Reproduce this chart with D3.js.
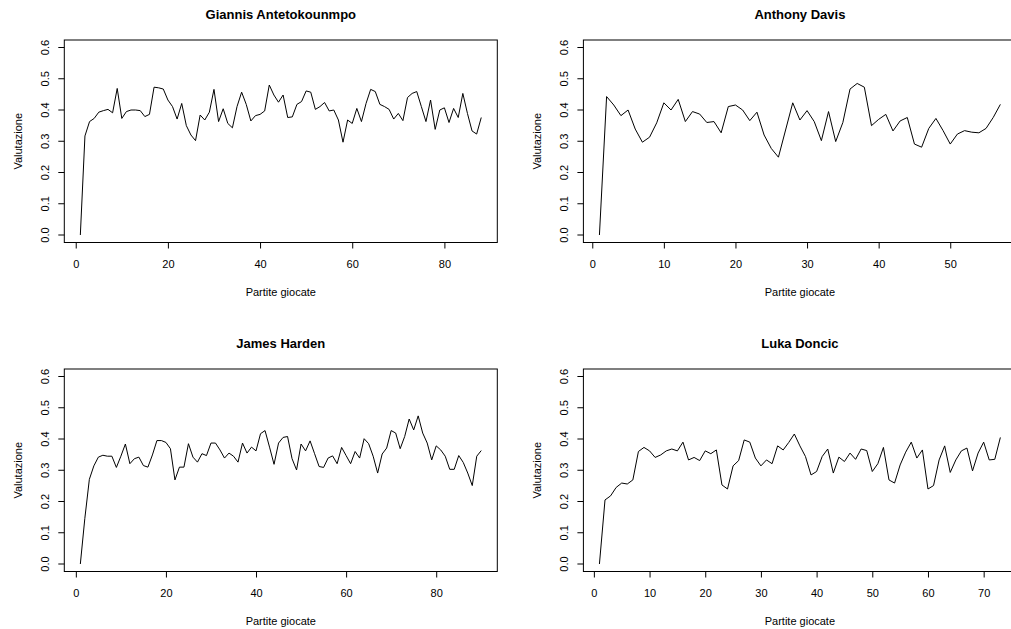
<!DOCTYPE html>
<html>
<head>
<meta charset="utf-8">
<script src="https://cdn.jsdelivr.net/npm/d3@7"></script>
<style>
  body { margin: 0; background: #fff; }
  svg { display: block; font-family: "Liberation Sans", Arial, sans-serif; }
</style>
</head>
<body>
<div id="chart"></div>
<script>
// Valutazione per partita, one array per giocatore
const giannis = [
  0.000, 0.317, 0.363, 0.373, 0.393, 0.398, 0.402, 0.391, 0.469, 0.373,
  0.395, 0.400, 0.400, 0.398, 0.379, 0.386, 0.473, 0.471, 0.467, 0.432,
  0.411, 0.371, 0.421, 0.350, 0.320, 0.302, 0.384, 0.368, 0.393, 0.466,
  0.363, 0.404, 0.357, 0.343, 0.411, 0.457, 0.418, 0.365, 0.382, 0.386,
  0.397, 0.480, 0.448, 0.425, 0.448, 0.376, 0.378, 0.418, 0.427, 0.461,
  0.457, 0.402, 0.411, 0.424, 0.397, 0.400, 0.368, 0.297, 0.368, 0.357,
  0.405, 0.363, 0.421, 0.466, 0.459, 0.418, 0.411, 0.402, 0.371, 0.389,
  0.366, 0.440, 0.453, 0.459, 0.411, 0.363, 0.432, 0.338, 0.400, 0.407,
  0.360, 0.405, 0.376, 0.453, 0.389, 0.333, 0.323, 0.376
];
const davis = [
  0.000, 0.443, 0.416, 0.382, 0.400, 0.339, 0.297, 0.313, 0.359, 0.423,
  0.400, 0.434, 0.363, 0.395, 0.387, 0.360, 0.363, 0.327, 0.411, 0.416,
  0.400, 0.366, 0.393, 0.320, 0.277, 0.249, 0.336, 0.423, 0.368, 0.398,
  0.363, 0.302, 0.395, 0.299, 0.360, 0.467, 0.485, 0.473, 0.350, 0.370,
  0.386, 0.333, 0.365, 0.376, 0.291, 0.281, 0.341, 0.373, 0.334, 0.291,
  0.323, 0.334, 0.329, 0.327, 0.341, 0.376, 0.418
];
const harden = [
  0.000, 0.146, 0.271, 0.314, 0.342, 0.348, 0.345, 0.345, 0.309, 0.345,
  0.384, 0.321, 0.337, 0.342, 0.315, 0.310, 0.349, 0.395, 0.395, 0.389,
  0.369, 0.269, 0.310, 0.310, 0.385, 0.342, 0.326, 0.353, 0.347, 0.387,
  0.387, 0.365, 0.339, 0.355, 0.345, 0.326, 0.387, 0.355, 0.374, 0.362,
  0.417, 0.427, 0.374, 0.319, 0.387, 0.405, 0.408, 0.337, 0.301, 0.384,
  0.362, 0.394, 0.353, 0.312, 0.309, 0.339, 0.346, 0.321, 0.373, 0.347,
  0.321, 0.360, 0.339, 0.401, 0.385, 0.345, 0.291, 0.352, 0.371, 0.427,
  0.419, 0.369, 0.408, 0.464, 0.429, 0.474, 0.419, 0.387, 0.333, 0.378,
  0.365, 0.345, 0.303, 0.303, 0.347, 0.325, 0.291, 0.251, 0.345, 0.363
];
const doncic = [
  0.000, 0.205, 0.218, 0.245, 0.259, 0.256, 0.269, 0.360, 0.373, 0.362,
  0.341, 0.349, 0.362, 0.368, 0.362, 0.390, 0.333, 0.341, 0.331, 0.362,
  0.353, 0.365, 0.253, 0.240, 0.314, 0.331, 0.397, 0.390, 0.339, 0.314,
  0.333, 0.321, 0.378, 0.365, 0.389, 0.416, 0.378, 0.344, 0.285, 0.296,
  0.344, 0.368, 0.291, 0.342, 0.328, 0.355, 0.335, 0.368, 0.363, 0.296,
  0.321, 0.373, 0.269, 0.259, 0.317, 0.358, 0.390, 0.339, 0.365, 0.240,
  0.251, 0.333, 0.378, 0.293, 0.333, 0.362, 0.371, 0.298, 0.355, 0.390,
  0.333, 0.335, 0.405
];

const playerNames = ['Giannis Antetokounmpo', 'Anthony Davis', 'James Harden', 'Luka Doncic'];
const playerSeries = [giannis, davis, harden, doncic];
const yTicks = [0.0, 0.1, 0.2, 0.3, 0.4, 0.5, 0.6];
const xTicksGiannis = [0, 20, 40, 60, 80];
const xTicksDavis = [0, 10, 20, 30, 40, 50];
const xTicksHarden = [0, 20, 40, 60, 80];
const xTicksDoncic = [0, 10, 20, 30, 40, 50, 60, 70];
const xTickSets = [xTicksGiannis, xTicksDavis, xTicksHarden, xTicksDoncic];
const xLabel = 'Partite giocate';
const yLabel = 'Valutazione';

const width = 1011;
const height = 629;

// plot regions (like R's mfrow = c(2, 2))
const colLeft = [64.3, 583.4];
const rowTop = [40, 369];
const plotW = 433;
const plotH = 202.5;

const svg = d3.select('#chart')
  .append('svg')
  .attr('width', width)
  .attr('height', height);

playerSeries.forEach((values, k) => {
  const left = colLeft[k % 2];
  const top = rowTop[Math.floor(k / 2)];
  const n = values.length;
  const pad = 0.04 * (n - 1);

  const x = d3.scaleLinear().domain([1 - pad, n + pad]).range([0, plotW]);
  const y = d3.scaleLinear().domain([-0.024, 0.624]).range([plotH, 0]);

  const g = svg.append('g').attr('transform', `translate(${left},${top})`);

  // line
  const line = d3.line()
    .x((d, i) => x(i + 1))
    .y(d => y(d));

  g.append('path')
    .datum(values)
    .attr('d', line)
    .attr('fill', 'none')
    .attr('stroke', '#000')
    .attr('stroke-width', 1)
    .attr('stroke-linejoin', 'round');

  // box
  g.append('rect')
    .attr('x', 0)
    .attr('y', 0)
    .attr('width', plotW)
    .attr('height', plotH)
    .attr('fill', 'none')
    .attr('stroke', '#000')
    .attr('stroke-width', 1);

  // x axis
  const xAxis = g.append('g')
    .attr('transform', `translate(0,${plotH})`)
    .call(d3.axisBottom(x)
      .tickValues(xTickSets[k])
      .tickFormat(d3.format('d'))
      .tickSize(6)
      .tickPadding(11.5)
      .tickSizeOuter(0));
  xAxis.select('.domain').remove();
  xAxis.selectAll('.tick line').attr('stroke', '#000');
  xAxis.selectAll('.tick text')
    .attr('fill', '#000')
    .style('font-family', '"Liberation Sans", Arial, sans-serif')
    .style('font-size', '11px');

  // y axis (labels parallel to the axis, as in R)
  const yAxis = g.append('g');
  yAxis.selectAll('line')
    .data(yTicks)
    .enter()
    .append('line')
    .attr('x1', -6)
    .attr('x2', 0)
    .attr('y1', d => y(d))
    .attr('y2', d => y(d))
    .attr('stroke', '#000');
  yAxis.selectAll('text')
    .data(yTicks)
    .enter()
    .append('text')
    .attr('transform', d => `translate(-15.8,${y(d)}) rotate(-90)`)
    .attr('text-anchor', 'middle')
    .style('font-size', '11px')
    .text(d => d3.format('.1f')(d));

  // titles
  g.append('text')
    .attr('x', plotW / 2)
    .attr('y', -21)
    .attr('text-anchor', 'middle')
    .style('font-size', '13px')
    .style('font-weight', 'bold')
    .text(playerNames[k]);

  g.append('text')
    .attr('x', plotW / 2)
    .attr('y', plotH + 53)
    .attr('text-anchor', 'middle')
    .style('font-size', '11px')
    .text(xLabel);

  g.append('text')
    .attr('transform', `translate(-42.8,${plotH / 2}) rotate(-90)`)
    .attr('text-anchor', 'middle')
    .style('font-size', '11px')
    .text(yLabel);
});
</script>
</body>
</html>
